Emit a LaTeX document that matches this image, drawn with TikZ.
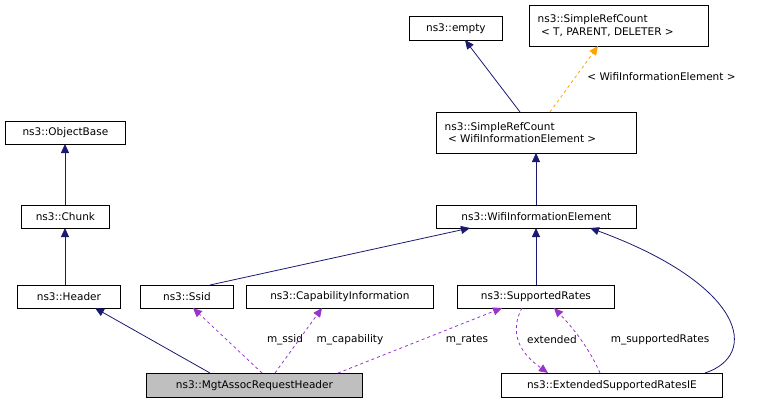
\documentclass[tikz,border=0pt]{standalone}
\usepackage{fontspec}
\setmainfont{DejaVu Sans}
\usetikzlibrary{arrows.meta}
\definecolor{navy}{HTML}{191970}
\definecolor{purp}{HTML}{9A32CD}
\definecolor{orng}{HTML}{FFA500}
\begin{document}
\begin{tikzpicture}[x=1pt,y=-1pt,font=\fontsize{10.5}{12.5}\selectfont,line width=0.8pt,
  box/.style={draw=black,fill=white,inner sep=0pt,anchor=north west},
  inh/.style={draw=navy,-{Triangle[length=9pt,width=8pt,fill=navy]}},
  use/.style={draw=purp,dashed,-{Triangle[length=9pt,width=8pt,fill=purp]}},
  tmpl/.style={draw=orng,dashed,-{Triangle[length=9pt,width=8pt,fill=orng]}},
  lbl/.style={fill=white,inner sep=1pt}]
\useasboundingbox (0,0) rectangle (769,405);
\newcommand{\bx}[6]{\node[box,minimum width=#4-#2,minimum height=#5-#3,#6] (#1) at (#2,#3) {};}
\bx{empty}{409}{16}{502}{40}{}
\node at (empty.center) {ns3::empty};
\bx{srcT}{529}{5}{708}{46}{}
\node[align=left,anchor=west] at (534,25.5) {ns3::SimpleRefCount\\\ < T, PARENT, DELETER >};
\bx{ob}{5}{121}{125}{144}{}
\node at (ob.center) {ns3::ObjectBase};
\bx{srcW}{436}{112}{636}{153}{}
\node[align=left,anchor=west] at (441,132.5) {ns3::SimpleRefCount\\\ < WifiInformationElement >};
\bx{chunk}{21}{205}{109}{228}{}
\node at (chunk.center) {ns3::Chunk};
\bx{wie}{436}{205}{636}{228}{}
\node at (wie.center) {ns3::WifiInformationElement};
\bx{hdr}{17}{285}{120}{308}{}
\node at (hdr.center) {ns3::Header};
\bx{ssid}{140}{285}{233}{308}{}
\node at (ssid.center) {ns3::Ssid};
\bx{cap}{246}{285}{433}{308}{}
\node at (cap.center) {ns3::CapabilityInformation};
\bx{sr}{457}{285}{614}{308}{}
\node at (sr.center) {ns3::SupportedRates};
\bx{mgt}{146}{373}{362}{397}{fill={rgb,255:red,191;green,191;blue,191}}
\node at (mgt.center) {ns3::MgtAssocRequestHeader};
\bx{ext}{501}{373}{722}{397}{}
\node at (ext.center) {ns3::ExtendedSupportedRatesIE};

\draw[inh] (520,112) -- (465,40);
\draw[tmpl] (550,112) -- (598,46);
\node[lbl,anchor=west] at (586,77) {< WifiInformationElement >};
\draw[inh] (536,205) -- (536,153);
\draw[inh] (65,205) -- (65,144);
\draw[inh] (65,285) -- (65,228);
\draw[inh] (210,285) -- (470,228);
\draw[inh] (536,285) -- (536,228);
\draw[inh] (705,373) .. controls (760,355) and (745,285) .. (590,228);
\draw[inh] (210,373) -- (95,308);
\draw[use] (262,373) -- (193,308);
\node[lbl] at (285,340) {m\_ssid};
\draw[use] (275,373) -- (322,308);
\node[lbl] at (350,340) {m\_capability};
\draw[use] (338,373) -- (502,308);
\node[lbl] at (467,340) {m\_rates};
\draw[use] (522,308) .. controls (505,340) and (530,360) .. (548,373);
\node[lbl] at (552,340) {extended};
\draw[use] (600,373) .. controls (590,350) and (575,330) .. (554,308);
\node[lbl] at (660,340) {m\_supportedRates};
\end{tikzpicture}
\end{document}
